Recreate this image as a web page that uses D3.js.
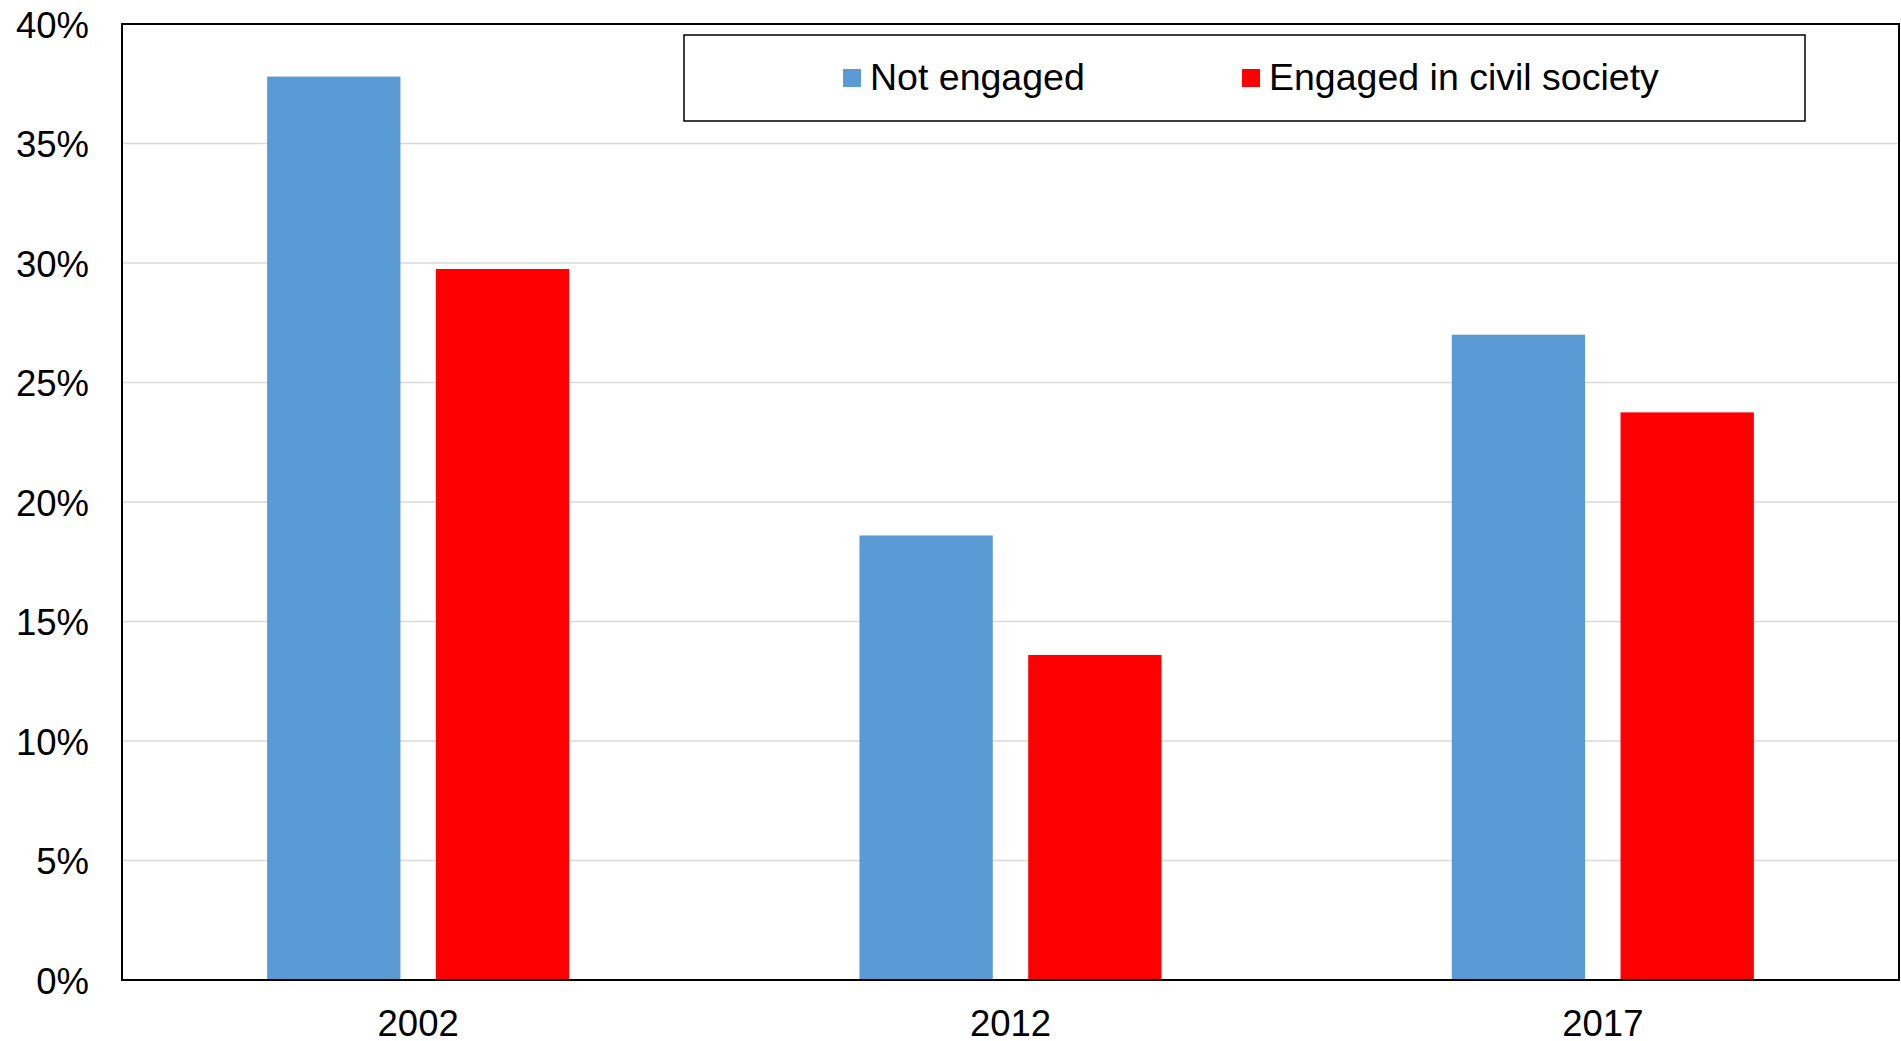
<!DOCTYPE html>
<html>
<head>
<meta charset="utf-8">
<script src="https://cdn.jsdelivr.net/npm/d3@7"></script>
<style>
  html, body { margin: 0; padding: 0; background: #fff; }
  svg { display: block; }
  text { font-family: "Liberation Sans", Arial, sans-serif; fill: #000; }
</style>
</head>
<body>
<svg id="chart" width="1901" height="1041"></svg>
<script>
const categories = ["2002", "2012", "2017"];
const seriesNames = ["Not engaged", "Engaged in civil society"];
const notEngaged = [37.8, 18.6, 27.0];
const engaged = [29.75, 13.6, 23.75];
const yTicks = [0, 5, 10, 15, 20, 25, 30, 35, 40];
const colors = ["#5B9BD5", "#FF0000"];

const svg = d3.select("#chart");
const plotLeft = 122, plotRight = 1899, plotTop = 24, plotBottom = 980;

const x0 = d3.scaleBand().domain(categories).range([plotLeft, plotRight]).paddingInner(0).paddingOuter(0);
const x1 = d3.scaleBand().domain(seriesNames).range([0, x0.bandwidth()]).paddingInner(0.21).paddingOuter(0.86);
const y = d3.scaleLinear().domain([0, 40]).range([plotBottom, plotTop]);

// gridlines
svg.append("g")
  .selectAll("line")
  .data(yTicks.filter(t => t > 0 && t < 40))
  .join("line")
  .attr("x1", plotLeft).attr("x2", plotRight)
  .attr("y1", d => y(d)).attr("y2", d => y(d))
  .attr("stroke", "#D9D9D9").attr("stroke-width", 1.5);

// bars
const data = categories.map((c, i) => ({ cat: c, vals: [notEngaged[i], engaged[i]] }));
const groups = svg.append("g").selectAll("g")
  .data(data).join("g")
  .attr("transform", d => `translate(${x0(d.cat)},0)`);
groups.selectAll("rect")
  .data(d => d.vals.map((v, j) => ({ s: seriesNames[j], v, j })))
  .join("rect")
  .attr("x", d => x1(d.s))
  .attr("width", x1.bandwidth())
  .attr("y", d => y(d.v))
  .attr("height", d => y(0) - y(d.v))
  .attr("fill", d => colors[d.j]);

// plot border
svg.append("rect")
  .attr("x", plotLeft).attr("y", plotTop)
  .attr("width", plotRight - plotLeft).attr("height", plotBottom - plotTop)
  .attr("fill", "none").attr("stroke", "#000").attr("stroke-width", 2);

// y axis
const yAxis = d3.axisLeft(y).tickValues(yTicks).tickSize(0).tickPadding(33)
  .tickFormat(d => d + "%");
const gy = svg.append("g").attr("transform", `translate(${plotLeft},0)`).call(yAxis);
gy.select(".domain").remove();
gy.selectAll("text").style("font-size", "36.5px").style("font-family", "'Liberation Sans', Arial, sans-serif").attr("fill", "#000").attr("dy", "0.36em");

// x axis
const xAxis = d3.axisBottom(x0).tickSize(0).tickPadding(30);
const gx = svg.append("g").attr("transform", `translate(0,${plotBottom})`).call(xAxis);
gx.select(".domain").remove();
gx.selectAll("text").style("font-size", "36.5px").style("font-family", "'Liberation Sans', Arial, sans-serif").attr("fill", "#000");

// legend
const lg = svg.append("g");
lg.append("rect")
  .attr("x", 684).attr("y", 35).attr("width", 1121).attr("height", 86)
  .attr("fill", "#fff").attr("stroke", "#000").attr("stroke-width", 1.5);
const legendX = [843, 1242];
const items = lg.selectAll("g.item").data(seriesNames).join("g")
  .attr("class", "item")
  .attr("transform", (d, i) => `translate(${legendX[i]},0)`);
items.append("rect").attr("x", 0).attr("y", 69).attr("width", 18).attr("height", 18)
  .attr("fill", (d, i) => colors[i]);
items.append("text").attr("x", 27).attr("y", 90)
  .style("font-size", "37.5px").text(d => d);
</script>
</body>
</html>
